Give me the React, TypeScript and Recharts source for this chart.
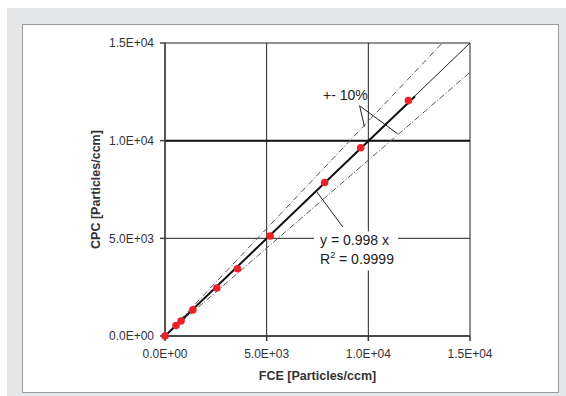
import React from 'react';
import {
  ScatterChart,
  Scatter,
  XAxis,
  YAxis,
  CartesianGrid,
  ReferenceLine,
  ReferenceArea,
  Label,
} from 'recharts';

// measured points (FCE vs CPC)
const fceValues = [0, 540, 790, 1370, 2550, 3565, 5170, 7850, 9625, 11970];
const cpcValues = [0, 535, 770, 1335, 2455, 3440, 5120, 7860, 9640, 12050];

const axisTicks = [0, 5000, 10000, 15000];
const axisDomain = [0, 15000];

// fit y = 0.998 x, drawn over the measured range
const fitSlope = 0.998;
const fitRangeX = [0, 12300];

// +-10% band
const bandUpperX = [0, 13636];
const bandLowerX = [0, 15000];
const bandFactors = [1.1, 0.9];

// 1:1 line
const identityX = [0, 15000];

// annotation leaders
const bandLeaderA = [{ x: 9570, y: 11790 }, { x: 9807, y: 10726 }];
const bandLeaderB = [{ x: 9570, y: 11790 }, { x: 11439, y: 10351 }];
const fitLeader = [{ x: 7461, y: 7387 }, { x: 8739, y: 5589 }];

const bandLabelBox = { x1: 7623, x2: 9250, y1: 11943, y2: 12817 };
const fitLabelBox = { x1: 7328, x2: 11459, y1: 3356, y2: 5368 };

const points = fceValues.map((x, i) => ({ x, y: cpcValues[i] }));
const fitLine = fitRangeX.map((x) => ({ x, y: x * fitSlope }));
const upperBand = bandUpperX.map((x) => ({ x, y: x * bandFactors[0] }));
const lowerBand = bandLowerX.map((x) => ({ x, y: x * bandFactors[1] }));
const identityLine = identityX.map((x) => ({ x, y: x }));

const FONT = '"Liberation Sans", Arial, sans-serif';

const formatSci = (v: number) => {
  if (v === 0) return '0.0E+00';
  const exp = Math.floor(Math.log10(Math.abs(v)));
  const mant = v / Math.pow(10, exp);
  return `${mant.toFixed(1)}E+${String(exp).padStart(2, '0')}`;
};

const NoDot = () => <g />;

const RedDot = (props: any) => (
  <circle cx={props.cx} cy={props.cy} r={3.8} fill="#ec2229" />
);

const BandText = (props: any) => {
  const { x, y } = props.viewBox;
  return (
    <text x={x + 3} y={y + 14} fontSize={14} fill="#222" fontFamily={FONT}>
      +- 10%
    </text>
  );
};

const FitText = (props: any) => {
  const { x, y } = props.viewBox;
  return (
    <g fontFamily={FONT} fontSize={14} fill="#222">
      <text x={x + 6} y={y + 14}>y = 0.998 x</text>
      <text x={x + 6} y={y + 33}>
        R<tspan dy={-6} fontSize={9}>2</tspan>
        <tspan dy={6}> = 0.9999</tspan>
      </text>
    </g>
  );
};

const App = () => {
  return (
    <div style={{ position: 'absolute', left: 0, top: 0, width: 566, height: 396 }}>
      <div
        style={{
          position: 'absolute',
          left: 7,
          top: 8,
          width: 559,
          height: 388,
          background: '#e6e7e8',
        }}
      />
      <div
        style={{
          position: 'absolute',
          left: 22,
          top: 24,
          width: 535,
          height: 367,
          background: '#fff',
          border: '1.5px solid #9b9b9b',
        }}
      />
      <div style={{ position: 'absolute', left: 0, top: 0 }}>
        <ScatterChart
          width={566}
          height={396}
          margin={{ top: 43, right: 96, bottom: 20, left: 105 }}
        >
          <CartesianGrid stroke="#222" strokeWidth={1} />
          <XAxis
            type="number"
            dataKey="x"
            domain={axisDomain}
            ticks={axisTicks}
            tickFormatter={formatSci}
            height={40}
            stroke="#333"
            strokeWidth={1.5}
            tickSize={5}
            tickMargin={8}
            tick={{ fontSize: 12, fill: '#333', fontFamily: FONT }}
          >
            <Label
              value="FCE [Particles/ccm]"
              position="insideBottom"
              offset={-4}
              style={{ fontSize: 12.5, fontWeight: 'bold', fill: '#333', fontFamily: FONT }}
            />
          </XAxis>
          <YAxis
            type="number"
            dataKey="y"
            domain={axisDomain}
            ticks={axisTicks}
            tickFormatter={formatSci}
            width={60}
            stroke="#444"
            strokeWidth={1.5}
            tickSize={5}
            tickMargin={6}
            tick={{ fontSize: 12, fill: '#333', fontFamily: FONT }}
          >
            <Label
              value="CPC [Particles/ccm]"
              angle={-90}
              position="insideLeft"
              offset={-9}
              style={{
                fontSize: 12.5,
                fontWeight: 'bold',
                fill: '#333',
                fontFamily: FONT,
                textAnchor: 'middle',
              }}
            />
          </YAxis>
          <ReferenceLine y={10000} stroke="#111" strokeWidth={2} />
          <ReferenceArea
            {...bandLabelBox}
            fill="#fff"
            fillOpacity={1}
            stroke="none"
            label={<BandText />}
          />
          <ReferenceArea
            {...fitLabelBox}
            fill="#fff"
            fillOpacity={1}
            stroke="none"
            label={<FitText />}
          />
          <Scatter
            data={upperBand}
            line={{ stroke: '#555', strokeWidth: 1, strokeDasharray: '6 2 1 2' }}
            shape={NoDot}
            isAnimationActive={false}
          />
          <Scatter
            data={lowerBand}
            line={{ stroke: '#555', strokeWidth: 1, strokeDasharray: '6 2 1 2' }}
            shape={NoDot}
            isAnimationActive={false}
          />
          <Scatter
            data={identityLine}
            line={{ stroke: '#222', strokeWidth: 1 }}
            shape={NoDot}
            isAnimationActive={false}
          />
          <Scatter
            data={fitLine}
            line={{ stroke: '#111', strokeWidth: 2 }}
            shape={NoDot}
            isAnimationActive={false}
          />
          <Scatter
            data={bandLeaderA}
            line={{ stroke: '#222', strokeWidth: 1 }}
            shape={NoDot}
            isAnimationActive={false}
          />
          <Scatter
            data={bandLeaderB}
            line={{ stroke: '#222', strokeWidth: 1 }}
            shape={NoDot}
            isAnimationActive={false}
          />
          <Scatter
            data={fitLeader}
            line={{ stroke: '#222', strokeWidth: 1 }}
            shape={NoDot}
            isAnimationActive={false}
          />
          <Scatter data={points} shape={RedDot} isAnimationActive={false} />
        </ScatterChart>
      </div>
    </div>
  );
};

export default App;
